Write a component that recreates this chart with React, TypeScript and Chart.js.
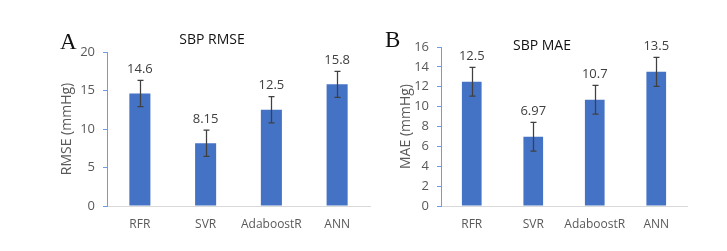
import React, { useEffect, useRef } from "react";
import { Chart, registerables } from "chart.js";

Chart.register(...registerables);

const categories = ["RFR", "SVR", "AdaboostR", "ANN"];
const rmseValues = [14.6, 8.15, 12.5, 15.8];
const rmseErrors = [1.7, 1.7, 1.7, 1.7];
const maeValues = [12.5, 6.97, 10.7, 13.5];
const maeErrors = [1.45, 1.45, 1.45, 1.45];
const rmseTicks = [0, 5, 10, 15, 20];
const maeTicks = [0, 2, 4, 6, 8, 10, 12, 14, 16];

const FONT = "'Open Sans', 'Noto Sans', sans-serif";
const BAR = "#4472C4";
const AXIS_BLUE = "#6F9BE0";
const TEXT = "#595959";

const overlayPlugin = {
  id: "overlay",
  afterDatasetsDraw(chart: any, _args: any, opts: any) {
    const { ctx } = chart;
    const meta = chart.getDatasetMeta(0);
    const yScale = chart.scales.y;
    const vals = chart.data.datasets[0].data as number[];
    const errs: number[] = opts.errors || [];
    ctx.save();
    meta.data.forEach((bar: any, i: number) => {
      const v = vals[i];
      const e = errs[i] || 0;
      const yTop = yScale.getPixelForValue(v + e);
      const yBot = yScale.getPixelForValue(v - e);
      const x = Math.round(bar.x) + 0.5;
      ctx.strokeStyle = "#404040";
      ctx.lineWidth = 1.25;
      ctx.beginPath();
      ctx.moveTo(x, yTop);
      ctx.lineTo(x, yBot);
      ctx.moveTo(x - 3, yTop);
      ctx.lineTo(x + 3, yTop);
      ctx.moveTo(x - 3, yBot);
      ctx.lineTo(x + 3, yBot);
      ctx.stroke();
      ctx.fillStyle = "#404040";
      ctx.font = `13px ${FONT}`;
      ctx.textAlign = "center";
      ctx.textBaseline = "middle";
      ctx.fillText(String(v), bar.x, yTop - 11);
    });
    ctx.fillStyle = "#111111";
    ctx.font = `14px ${FONT}`;
    ctx.textAlign = "center";
    ctx.textBaseline = "middle";
    ctx.fillText(opts.title, opts.titleX, opts.titleY);
    ctx.restore();
  },
};

type PanelProps = {
  left: number;
  width: number;
  values: number[];
  errors: number[];
  ticks: number[];
  max: number;
  title: string;
  titleX: number;
  titleY: number;
  yTitle: string;
  yTitlePad: number;
  axisWidth: number;
  padTop: number;
  padRight: number;
};

function Panel(p: PanelProps) {
  const ref = useRef<HTMLCanvasElement | null>(null);
  useEffect(() => {
    if (!ref.current) return;
    const chart = new Chart(ref.current, {
      type: "bar",
      data: {
        labels: categories,
        datasets: [
          {
            data: p.values,
            backgroundColor: BAR,
            barPercentage: 0.64,
            categoryPercentage: 0.5,
          },
        ],
      },
      options: {
        responsive: false,
        animation: false,
        layout: { padding: { top: p.padTop, right: p.padRight, left: 0, bottom: 0 } },
        plugins: {
          legend: { display: false },
          tooltip: { enabled: false },
          title: { display: false },
          overlay: {
            errors: p.errors,
            title: p.title,
            titleX: p.titleX,
            titleY: p.titleY,
          },
        } as any,
        scales: {
          x: {
            grid: { display: false, drawTicks: false },
            border: { display: true, color: "#D9D9D9", width: 1 },
            ticks: {
              color: TEXT,
              font: { family: FONT, size: 12 },
              padding: 11,
              maxRotation: 0,
              minRotation: 0,
              autoSkip: false,
            },
            afterFit: (s: any) => {
              s.height = 45;
            },
          },
          y: {
            min: 0,
            max: p.max,
            afterBuildTicks: (s: any) => {
              s.ticks = p.ticks.map((v) => ({ value: v }));
            },
            grid: {
              drawOnChartArea: false,
              drawTicks: true,
              tickLength: 4,
              tickColor: AXIS_BLUE,
              lineWidth: 1,
            },
            border: { display: true, color: AXIS_BLUE, width: 1 },
            ticks: { color: TEXT, font: { family: FONT, size: 13 }, padding: 8 },
            title: {
              display: true,
              text: p.yTitle,
              color: TEXT,
              font: { family: FONT, size: 14 },
              padding: { top: p.yTitlePad, bottom: 0 },
            },
            afterFit: (s: any) => {
              s.width = p.axisWidth;
            },
          },
        },
      },
      plugins: [overlayPlugin],
    });
    return () => chart.destroy();
  }, []);
  return (
    <canvas
      ref={ref}
      width={p.width}
      height={251}
      style={{ position: "absolute", left: p.left, top: 0, width: p.width, height: 251 }}
    />
  );
}

export default function App() {
  useEffect(() => {
    document.body.style.margin = "0";
  }, []);
  const letter: React.CSSProperties = {
    position: "absolute",
    fontFamily: "'Liberation Serif', 'Times New Roman', serif",
    fontSize: 23,
    color: "#111",
    lineHeight: "23px",
  };
  return (
    <div style={{ position: "relative", width: 727, height: 251, background: "#fff", overflow: "hidden" }}>
      <Panel
        left={0}
        width={380}
        values={rmseValues}
        errors={rmseErrors}
        ticks={rmseTicks}
        max={20}
        title="SBP RMSE"
        titleX={212}
        titleY={40}
        yTitle="RMSE (mmHg)"
        yTitlePad={59}
        axisWidth={107}
        padTop={52}
        padRight={10}
      />
      <Panel
        left={380}
        width={347}
        values={maeValues}
        errors={maeErrors}
        ticks={maeTicks}
        max={16}
        title="SBP MAE"
        titleX={162}
        titleY={46.5}
        yTitle="MAE (mmHg)"
        yTitlePad={18}
        axisWidth={61}
        padTop={47}
        padRight={40}
      />
      <div style={{ ...letter, left: 60, top: 30 }}>A</div>
      <div style={{ ...letter, left: 385, top: 28 }}>B</div>
    </div>
  );
}
